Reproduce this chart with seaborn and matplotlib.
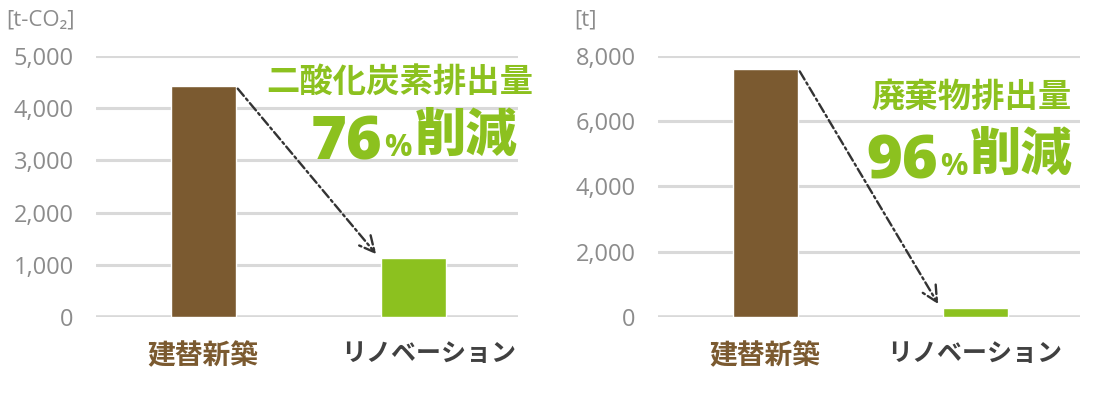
import matplotlib
matplotlib.use("Agg")
import matplotlib.pyplot as plt
import matplotlib.transforms as mtransforms
import seaborn as sns

# data
categories = ["建替新築", "リノベーション"]
co2_values = [4420, 1130]
waste_values = [7600, 280]
co2_ticks = [0, 1000, 2000, 3000, 4000, 5000]
waste_ticks = [0, 2000, 4000, 6000, 8000]
co2_unit = "[t-CO₂]"
waste_unit = "[t]"
co2_title = "二酸化炭素排出量"
waste_title = "廃棄物排出量"
co2_cut = "76"
waste_cut = "96"

BROWN = "#7B5A30"
GREEN = "#8CC11F"
GRAY = "#8C8C8C"
DARK = "#404040"
JP = ["Noto Sans CJK JP", "DejaVu Sans"]
NUM = ["Open Sans", "DejaVu Sans"]
BAR_W = 0.31

sns.set_theme(style="white")
plt.rcParams["font.family"] = JP

fig = plt.figure(figsize=(11.1, 4.0), dpi=100)
ax1 = fig.add_axes([0.0865, 0.2068, 0.3802, 0.654])
ax2 = fig.add_axes([0.5928, 0.2068, 0.3802, 0.654])


def draw_panel(ax, values, ticks, title, cut, unit, unit_x,
               title_pos, cut_pos, label_shift):
    sns.barplot(x=categories, y=values, hue=categories, palette=[BROWN, GREEN],
                width=BAR_W, legend=False, ax=ax, saturation=1)
    ax.set_ylim(0, ticks[-1])
    ax.set_xlim(-0.51, 1.5)
    ax.set_yticks(ticks)
    ax.set_yticklabels([f"{t:,}" for t in ticks], family=NUM, fontsize=17, color=GRAY)
    ax.yaxis.grid(True, color="#D9D9D9", linewidth=2.2)
    ax.set_axisbelow(True)
    ax.axhline(0, color="#D9D9D9", linewidth=2.6, zorder=0)
    for s in ax.spines.values():
        s.set_visible(False)
    ax.tick_params(axis="y", length=0, pad=16)
    ax.tick_params(axis="x", length=0, pad=18)
    ax.set_xticks(range(len(categories)))
    ax.set_xticklabels(categories, fontweight="bold")
    labs = ax.get_xticklabels()
    labs[0].set_color(BROWN)
    labs[0].set_fontsize(20)
    labs[1].set_color(DARK)
    labs[1].set_fontsize(18)
    # the renovation label sits a little right of its bar on the left panel
    shift = mtransforms.ScaledTranslation(label_shift / 100, 0, fig.dpi_scale_trans)
    labs[1].set_transform(labs[1].get_transform() + shift)
    ax.set_xlabel("")
    ax.set_ylabel("")

    # arrow from first bar to second bar
    ymax = ticks[-1]
    ax.annotate("", xy=(1 - BAR_W / 2 - 0.02, values[1] + ymax * 0.015),
                xytext=(BAR_W / 2 + 0.01, values[0] - ymax * 0.01),
                arrowprops=dict(arrowstyle="->", color="#333333", lw=1.7,
                                linestyle=(0, (4, 1.5, 1, 1.5)),
                                mutation_scale=28, shrinkA=0, shrinkB=0))

    # headline text
    ax.text(title_pos[0], title_pos[1], title, transform=ax.transAxes,
            ha="right", va="center", fontsize=24, fontweight="bold", color=GREEN)
    t_cut = ax.text(cut_pos[0], cut_pos[1], "削減", transform=ax.transAxes,
                    ha="right", va="baseline", fontsize=37, fontweight="black",
                    color=GREEN)
    t_pct = ax.annotate("%", xy=(0, 0), xycoords=t_cut, xytext=(-2, 4),
                        textcoords="offset points", ha="right", va="baseline",
                        fontsize=22, fontweight="bold", color=GREEN, family=NUM)
    ax.annotate(cut, xy=(0, 0), xycoords=t_pct, xytext=(-1, 2.5),
                textcoords="offset points", ha="right", va="baseline",
                fontsize=44, fontweight="black", color=GREEN, family=NUM)

    fig.text(unit_x, 1 - 20 / 400, unit, ha="left", va="center",
             fontsize=16, color=GRAY, family=NUM)


draw_panel(ax1, co2_values, co2_ticks, co2_title, co2_cut, co2_unit, 6 / 1110,
           (1.036, 0.899), (0.998, 0.636), 16)
draw_panel(ax2, waste_values, waste_ticks, waste_title, waste_cut, waste_unit,
           574 / 1110, (0.981, 0.843), (0.983, 0.565), 0)

fig.savefig("out.png", dpi=100)
